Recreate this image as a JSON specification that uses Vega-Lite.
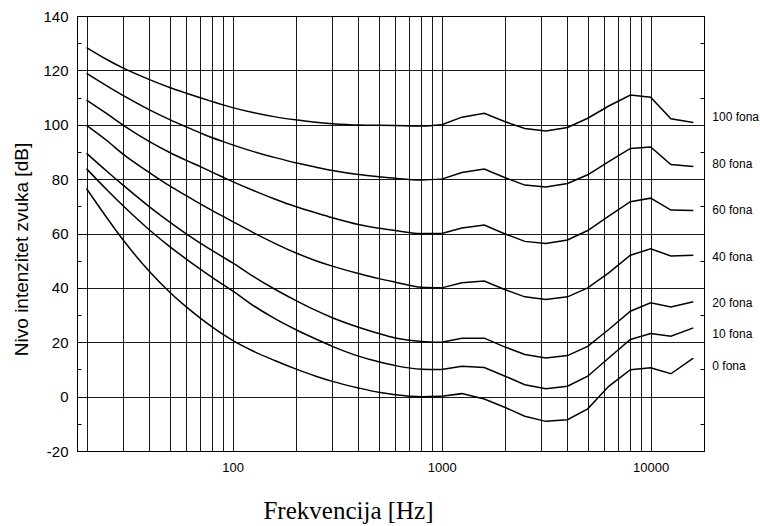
{
  "$schema": "https://vega.github.io/schema/vega-lite/v6.json",
  "width": 627,
  "height": 435,
  "autosize": {"type": "none"},
  "padding": {"left": 77, "top": 16, "right": 56, "bottom": 75},
  "config": {
    "view": {"stroke": "#000", "strokeWidth": 1},
    "font": "Liberation Sans",
    "axis": {"domainColor": "#000", "gridColor": "#000", "tickColor": "#000", "labelColor": "#000", "titleColor": "#000"}
  },
  "datasets": {
    "curves": [
      {"hz": 20, "p100": 128.4, "p80": 118.9, "p60": 109.1, "p40": 99.8, "p20": 89.5, "p10": 83.8, "p0": 76.5},
      {"hz": 25, "p100": 124.0, "p80": 114.3, "p60": 104.1, "p40": 94.2, "p20": 82.9, "p10": 76.1, "p0": 65.8},
      {"hz": 30, "p100": 120.8, "p80": 110.7, "p60": 99.8, "p40": 89.1, "p20": 77.7, "p10": 70.1, "p0": 57.5},
      {"hz": 40, "p100": 116.6, "p80": 105.5, "p60": 93.8, "p40": 82.4, "p20": 69.8, "p10": 61.3, "p0": 46.0},
      {"hz": 50, "p100": 113.7, "p80": 101.9, "p60": 89.8, "p40": 77.5, "p20": 64.2, "p10": 55.2, "p0": 38.4},
      {"hz": 60, "p100": 111.6, "p80": 99.2, "p60": 86.9, "p40": 73.9, "p20": 59.9, "p10": 50.6, "p0": 33.0},
      {"hz": 70, "p100": 109.9, "p80": 97.0, "p60": 84.6, "p40": 70.9, "p20": 56.5, "p10": 46.9, "p0": 28.9},
      {"hz": 80, "p100": 108.5, "p80": 95.2, "p60": 82.5, "p40": 68.4, "p20": 53.7, "p10": 43.8, "p0": 25.6},
      {"hz": 90, "p100": 107.3, "p80": 93.8, "p60": 80.7, "p40": 66.3, "p20": 51.3, "p10": 41.2, "p0": 22.9},
      {"hz": 100, "p100": 106.3, "p80": 92.6, "p60": 79.1, "p40": 64.4, "p20": 49.2, "p10": 38.9, "p0": 20.7},
      {"hz": 125, "p100": 104.5, "p80": 90.2, "p60": 75.9, "p40": 60.4, "p20": 44.3, "p10": 33.6, "p0": 16.8},
      {"hz": 160, "p100": 102.9, "p80": 87.9, "p60": 72.6, "p40": 56.3, "p20": 39.4, "p10": 28.6, "p0": 13.2},
      {"hz": 200, "p100": 101.8, "p80": 86.0, "p60": 69.9, "p40": 52.9, "p20": 35.4, "p10": 24.7, "p0": 10.2},
      {"hz": 250, "p100": 100.9, "p80": 84.4, "p60": 67.6, "p40": 50.0, "p20": 31.7, "p10": 21.2, "p0": 7.5},
      {"hz": 300, "p100": 100.4, "p80": 83.2, "p60": 65.8, "p40": 48.0, "p20": 29.0, "p10": 18.5, "p0": 5.6},
      {"hz": 400, "p100": 99.9, "p80": 81.7, "p60": 63.3, "p40": 45.3, "p20": 25.5, "p10": 14.9, "p0": 3.2},
      {"hz": 500, "p100": 99.8, "p80": 80.9, "p60": 61.9, "p40": 43.4, "p20": 23.2, "p10": 12.8, "p0": 1.6},
      {"hz": 600, "p100": 99.7, "p80": 80.3, "p60": 61.1, "p40": 42.1, "p20": 21.6, "p10": 11.4, "p0": 0.7},
      {"hz": 800, "p100": 99.5, "p80": 79.7, "p60": 60.0, "p40": 40.2, "p20": 20.3, "p10": 10.1, "p0": 0.0},
      {"hz": 1000, "p100": 100.0, "p80": 80.0, "p60": 60.0, "p40": 40.0, "p20": 20.0, "p10": 10.0, "p0": 0.1},
      {"hz": 1250, "p100": 102.8, "p80": 82.4, "p60": 62.0, "p40": 41.9, "p20": 21.5, "p10": 11.2, "p0": 1.1},
      {"hz": 1600, "p100": 104.2, "p80": 83.7, "p60": 63.1, "p40": 42.5, "p20": 21.5, "p10": 10.7, "p0": -0.9},
      {"hz": 2000, "p100": 101.2, "p80": 80.6, "p60": 59.9, "p40": 39.4, "p20": 18.3, "p10": 7.6, "p0": -3.9},
      {"hz": 2500, "p100": 98.6, "p80": 77.8, "p60": 57.1, "p40": 36.7, "p20": 15.5, "p10": 4.4, "p0": -7.2},
      {"hz": 3150, "p100": 97.7, "p80": 77.1, "p60": 56.3, "p40": 35.7, "p20": 14.2, "p10": 2.9, "p0": -9.1},
      {"hz": 4000, "p100": 99.0, "p80": 78.4, "p60": 57.6, "p40": 36.7, "p20": 15.1, "p10": 3.8, "p0": -8.5},
      {"hz": 5000, "p100": 102.4, "p80": 81.6, "p60": 61.1, "p40": 40.0, "p20": 18.5, "p10": 7.5, "p0": -4.5},
      {"hz": 6300, "p100": 106.9, "p80": 86.4, "p60": 66.4, "p40": 45.5, "p20": 24.7, "p10": 14.2, "p0": 3.8},
      {"hz": 8000, "p100": 110.9, "p80": 91.3, "p60": 71.7, "p40": 52.0, "p20": 31.4, "p10": 21.0, "p0": 9.9},
      {"hz": 10000, "p100": 110.1, "p80": 91.8, "p60": 73.0, "p40": 54.4, "p20": 34.5, "p10": 23.2, "p0": 10.6},
      {"hz": 12500, "p100": 102.2, "p80": 85.4, "p60": 68.6, "p40": 51.7, "p20": 33.0, "p10": 22.2, "p0": 8.4},
      {"hz": 16000, "p100": 100.8, "p80": 84.6, "p60": 68.5, "p40": 52.0, "p20": 34.9, "p10": 25.3, "p0": 14.2}
    ],
    "labels": [
      {"hz": 16000, "db": 103.0, "label": "100 fona"},
      {"hz": 16000, "db": 85.6, "label": "80 fona"},
      {"hz": 16000, "db": 68.6, "label": "60 fona"},
      {"hz": 16000, "db": 51.4, "label": "40 fona"},
      {"hz": 16000, "db": 34.4, "label": "20 fona"},
      {"hz": 16000, "db": 23.0, "label": "10 fona"},
      {"hz": 16000, "db": 11.4, "label": "0 fona"}
    ]
  },
  "resolve": {"axis": {"y": "independent"}},
  "layer": [
    {
      "data": {"name": "curves"},
      "transform": [
        {"filter": "datum.hz <= 1000"},
        {"fold": ["p100", "p80", "p60", "p40", "p20", "p10", "p0"], "as": ["fon", "db"]}
      ],
      "mark": {"type": "line", "color": "#000", "strokeWidth": 1.5, "clip": true, "interpolate": "monotone"},
      "encoding": {
        "x": {
          "field": "hz",
          "type": "quantitative",
          "title": "Frekvencija [Hz]",
          "scale": {"type": "log", "domain": [18, 18000], "nice": false},
          "axis": {
            "values": [20, 30, 40, 50, 60, 70, 80, 90, 100, 200, 300, 400, 500, 600, 700, 800, 900, 1000, 2000, 3000, 4000, 5000, 6000, 7000, 8000, 9000, 10000],
            "labelExpr": "(datum.value == 100 || datum.value == 1000 || datum.value == 10000) ? '' + datum.value : ''",
            "grid": true,
            "gridOpacity": 0.9,
            "gridWidth": 1,
            "ticks": false,
            "labelFontSize": 13,
            "labelPadding": 10,
            "labelFlush": false,
            "labelOverlap": false,
            "titleFont": "Liberation Serif",
            "titleFontSize": 25,
            "titleFontWeight": "normal",
            "titleX": 271,
            "titleY": 67,
            "titleAlign": "center",
            "titleBaseline": "alphabetic"
          }
        },
        "y": {
          "field": "db",
          "type": "quantitative",
          "scale": {"domain": [-20, 140], "nice": false},
          "axis": {
            "values": [-20, -10, 0, 10, 20, 30, 40, 50, 60, 70, 80, 90, 100, 110, 120, 130, 140],
            "labelExpr": "datum.value % 20 == 0 ? '' + datum.value : ''",
            "grid": true,
            "gridOpacity": {"condition": {"test": "datum.value % 20 != 0", "value": 0}, "value": 0.9},
            "ticks": true,
            "tickSize": -4,
            "labelFontSize": 15,
            "labelPadding": 13,
            "labelOverlap": false,
            "title": "Nivo intenzitet zvuka [dB]",
            "titleFontSize": 19,
            "titleFontWeight": "normal",
            "titleX": -56,
            "titleY": 233,
            "titleAlign": "center",
            "titleBaseline": "middle"
          }
        },
        "detail": {"field": "fon"}
      }
    },
    {
      "data": {"name": "curves"},
      "transform": [
        {"filter": "datum.hz >= 1000"},
        {"fold": ["p100", "p80", "p60", "p40", "p20", "p10", "p0"], "as": ["fon", "db"]}
      ],
      "mark": {"type": "line", "color": "#000", "strokeWidth": 1.5, "clip": true},
      "encoding": {
        "x": {"field": "hz", "type": "quantitative", "title": "Frekvencija [Hz]"},
        "y": {"field": "db", "type": "quantitative", "axis": null},
        "detail": {"field": "fon"}
      }
    },
    {
      "data": {"name": "labels"},
      "mark": {"type": "text", "align": "left", "baseline": "middle", "dx": 19, "fontSize": 12, "font": "Liberation Sans", "color": "#000"},
      "encoding": {
        "x": {"field": "hz", "type": "quantitative", "title": "Frekvencija [Hz]"},
        "y": {
          "field": "db",
          "type": "quantitative",
          "axis": {
            "orient": "right",
            "values": [-10, 10, 30, 50, 70, 90, 110, 130],
            "labels": false,
            "ticks": true,
            "tickSize": -4,
            "grid": false,
            "domain": true,
            "title": null
          }
        },
        "text": {"field": "label"}
      }
    }
  ]
}
